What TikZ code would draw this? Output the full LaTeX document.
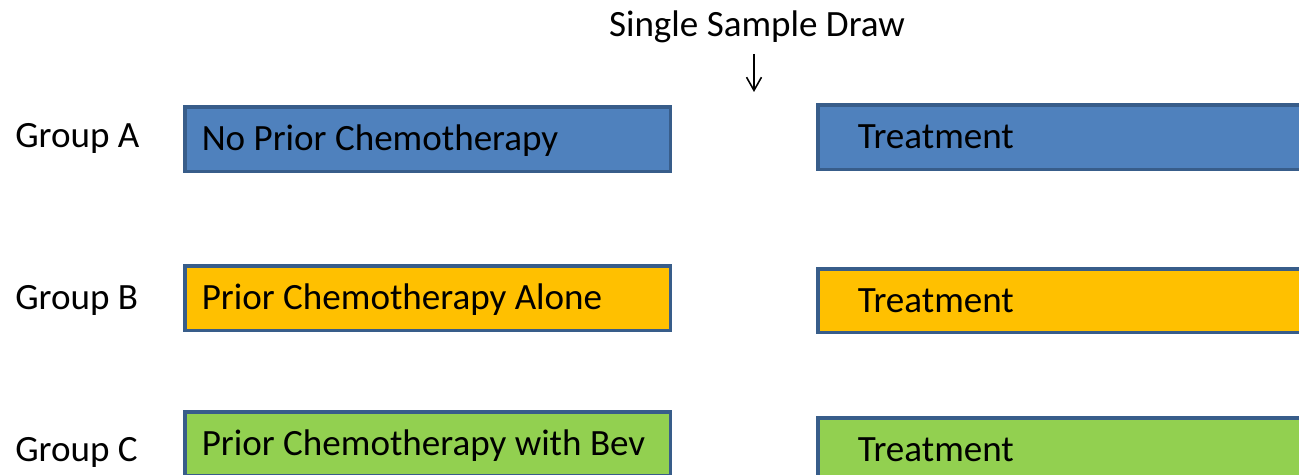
\documentclass[tikz,border=0pt]{standalone}
\usepackage{fontspec}
\setmainfont{Carlito}
\usetikzlibrary{arrows.meta}
\definecolor{edgeblue}{HTML}{385D8A}
\definecolor{fillA}{HTML}{4F81BD}
\definecolor{fillB}{HTML}{FFC000}
\definecolor{fillC}{HTML}{92D050}
\tikzset{>={Straight Barb[length=7.5pt,width=8.5pt]}}
\tikzset{
  armbox/.style={draw=edgeblue, line width=2pt, anchor=north west, align=flush left,
    text height=0.47cm, text depth=0pt},
  priorbox/.style={armbox, minimum width=9.72cm, inner xsep=0.34cm, text width=9.04cm},
  treatbox/.style={armbox, minimum width=10.08cm, inner xsep=0.8cm, text width=8.48cm},
  grouptext/.style={anchor=base west, inner sep=0pt},
}

\begin{document}
\begin{tikzpicture}[x=0.02cm, y=-0.02cm, font=\fontsize{21.1}{25}\selectfont]
    \clip (0,0) rectangle (1299,475);
    \fill [white] (0,0) rectangle (1299,475);

    \node [anchor=base, inner sep=0pt] (title) at (757,37) {Single Sample Draw};
    \coordinate (drawtop) at (754,54);
    \coordinate (drawbot) at (754,92);
    \draw [->, line width=0.9pt] (drawtop) -- (drawbot);

    \node [grouptext] (grpA) at (15,148) {Group A};
    \node [grouptext] (grpB) at (15,310) {Group B};
    \node [grouptext] (grpC) at (15,462) {Group C};

    \node [priorbox, fill=fillA, minimum height=1.3cm] (chemoA) at (183,105) {No Prior Chemotherapy};
    \node [priorbox, fill=fillB, minimum height=1.3cm] (chemoB) at (183,264) {Prior Chemotherapy Alone};
    \node [priorbox, fill=fillC, minimum height=1.28cm] (chemoC) at (183,410) {Prior Chemotherapy with Bev};

    \node [treatbox, fill=fillA, minimum height=1.3cm] (treatA) at (816,103) {Treatment};
    \node [treatbox, fill=fillB, minimum height=1.28cm] (treatB) at (816,267) {Treatment};
    \node [treatbox, fill=fillC, minimum height=1.28cm] (treatC) at (816,416) {Treatment};
  \end{tikzpicture}
\end{document}
